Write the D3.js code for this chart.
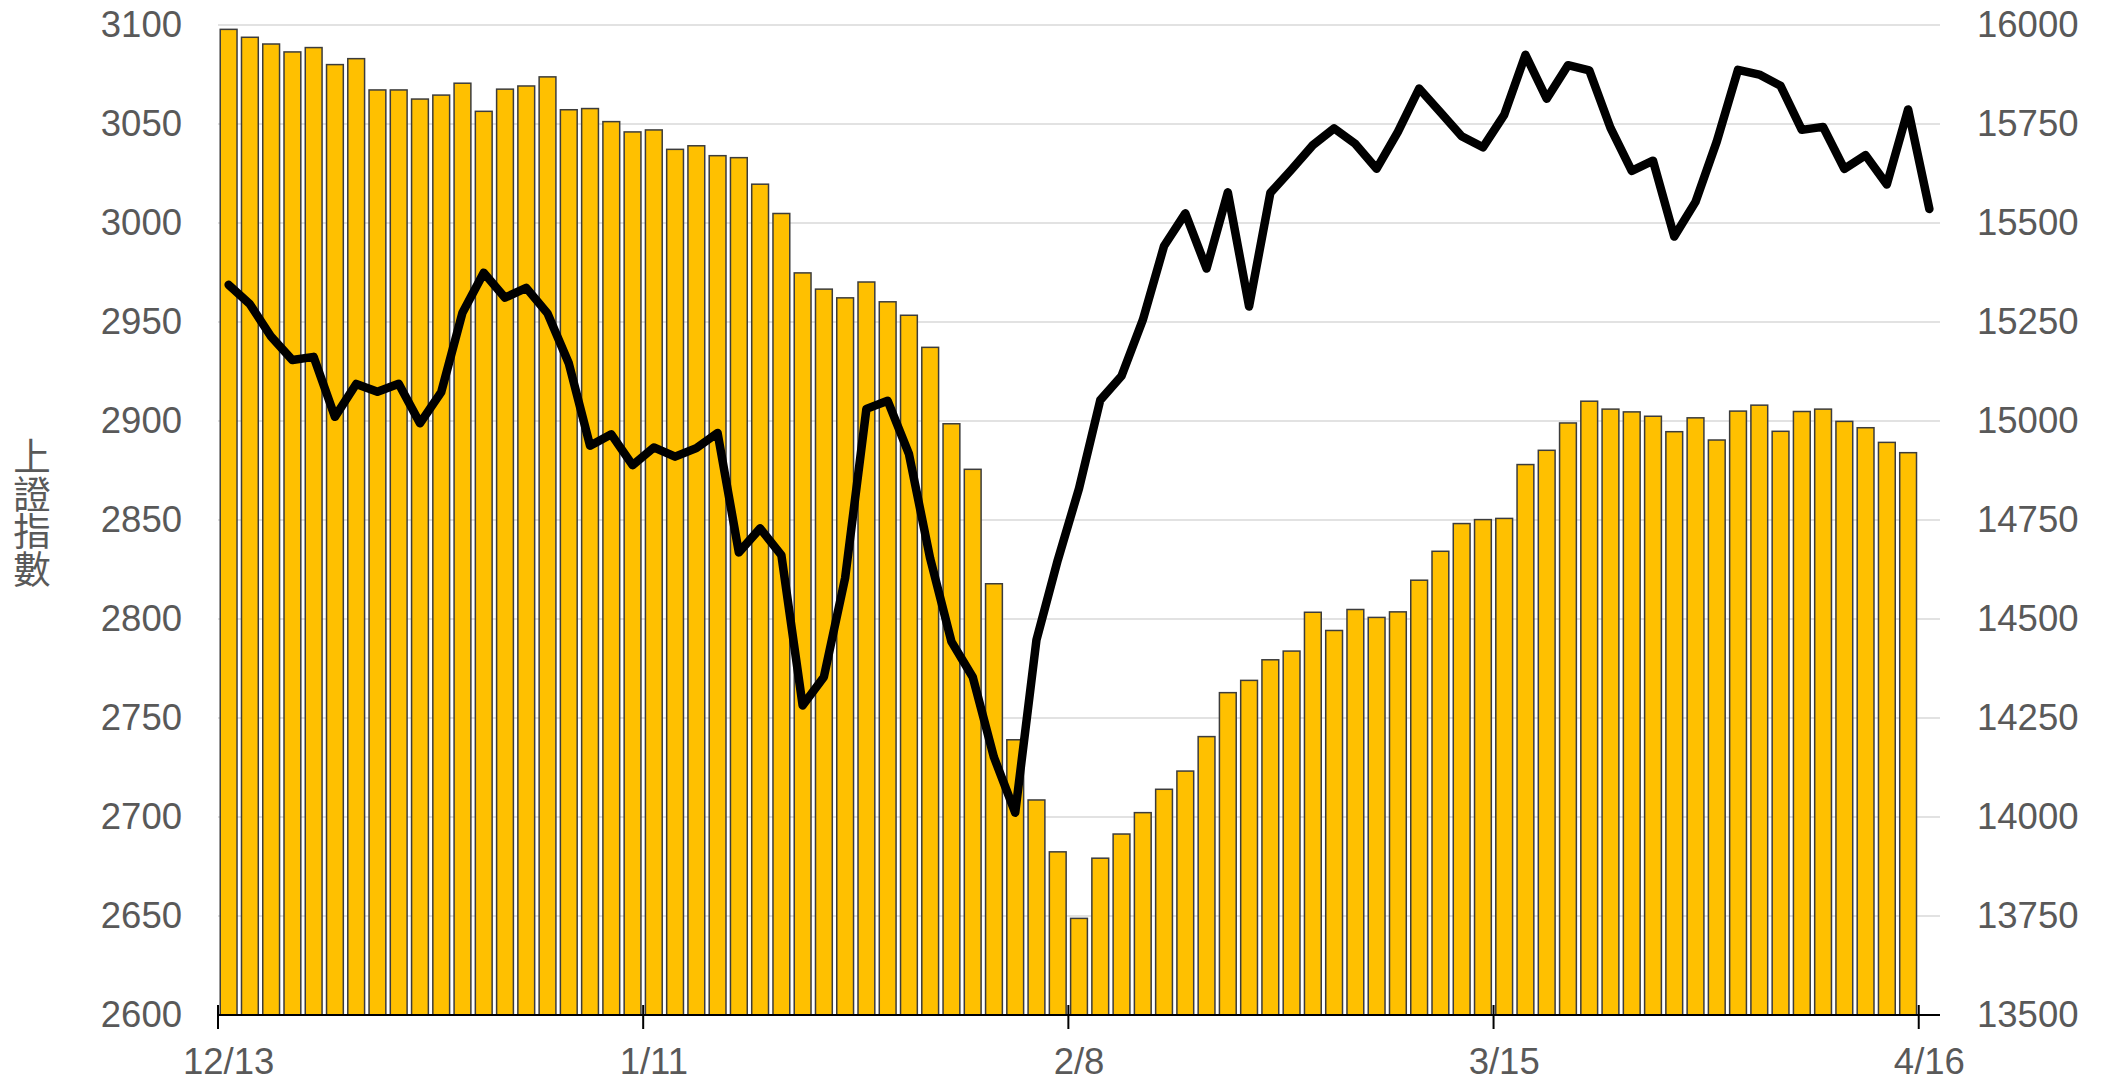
<!DOCTYPE html>
<html>
<head>
<meta charset="utf-8">
<script src="https://cdn.jsdelivr.net/npm/d3@7"></script>
<style>
  body { margin: 0; background: #fff; }
  svg text { font-family: "Liberation Sans", Arial, sans-serif; }
</style>
</head>
<body>
<svg id="chart" width="2107" height="1082"></svg>
<script>
// trading days, 12/13 -> 4/16
const dates = [
  "12/13","12/14","12/15","12/18","12/19","12/20","12/21","12/22","12/25","12/26","12/27","12/28","12/29",
  "1/2","1/3","1/4","1/5","1/8","1/9","1/10","1/11","1/12","1/15","1/16","1/17","1/18","1/19","1/22","1/23",
  "1/24","1/25","1/26","1/29","1/30","1/31",
  "2/1","2/2","2/5","2/6","2/7","2/8","2/19","2/20","2/21","2/22","2/23","2/26","2/27","2/28","2/29",
  "3/1","3/4","3/5","3/6","3/7","3/8","3/11","3/12","3/13","3/14","3/15","3/18","3/19","3/20","3/21","3/22",
  "3/25","3/26","3/27","3/28","3/29",
  "4/1","4/2","4/3","4/8","4/9","4/10","4/11","4/12","4/15","4/16"
];

// 上證指數 close (left axis)
const shIndex = [
  2968.76, 2958.99, 2942.56, 2930.80, 2932.39, 2902.11, 2918.71, 2914.78, 2918.81, 2898.85, 2914.61, 2954.70, 2974.93,
  2962.28, 2967.25, 2954.35, 2929.18, 2887.54, 2893.25, 2877.70, 2886.65, 2881.98, 2886.29, 2893.99, 2833.62, 2845.78,
  2832.28, 2756.34, 2770.74, 2820.77, 2906.11, 2910.22, 2883.36, 2830.53, 2788.55,
  2770.74, 2730.15, 2702.19, 2789.49, 2829.70, 2865.90, 2910.54, 2922.73, 2950.96, 2988.36, 3004.88, 2977.02, 3015.48,
  2957.85, 3015.17,
  3027.02, 3039.31, 3047.79, 3039.93, 3027.40, 3046.02, 3067.93, 3055.94, 3043.83, 3038.23, 3054.64, 3084.93, 3062.76,
  3079.69, 3077.11, 3048.03, 3026.31, 3031.48, 2993.14, 3010.66, 3041.17,
  3077.38, 3074.96, 3069.30, 3047.05, 3048.54, 3027.34, 3034.25, 3019.47, 3057.38, 3007.07
];

// bar series (right axis), no bar on the last day
const barValues = [
  15989, 15969, 15952, 15932, 15943, 15900, 15915, 15836, 15836, 15813, 15823, 15853, 15782, 15838, 15846, 15869,
  15786, 15789, 15756, 15730, 15735, 15686, 15695, 15670, 15665, 15598, 15524, 15374, 15333, 15311, 15351, 15301,
  15267, 15186, 14993, 14878, 14589, 14195, 14043, 13912, 13744, 13896, 13957, 14011, 14070, 14116, 14203, 14314,
  14345, 14397, 14419, 14517, 14471, 14524, 14504, 14518, 14598, 14671, 14741, 14751, 14754, 14890, 14926, 14995,
  15050, 15030, 15023, 15012, 14973, 15008, 14952, 15025, 15040, 14974, 15024, 15030, 14999, 14983, 14946, 14920
];

const leftTicks = [2600, 2650, 2700, 2750, 2800, 2850, 2900, 2950, 3000, 3050, 3100];
const rightTicks = [13500, 13750, 14000, 14250, 14500, 14750, 15000, 15250, 15500, 15750, 16000];
const xTickLabels = ["12/13", "1/11", "2/8", "3/15", "4/16"];
const yTitle = "上證指數";

var svg = d3.select("#chart");
var plotLeft = 218, plotRight = 1940, plotTop = 25, plotBottom = 1015;

var x = d3.scaleBand().domain(dates).range([plotLeft, plotRight]).padding(0);
var bw = x.bandwidth();
var yL = d3.scaleLinear().domain([2600, 3100]).range([plotBottom, plotTop]);
var yR = d3.scaleLinear().domain([13500, 16000]).range([plotBottom, plotTop]);

// gridlines
svg.append("g")
  .selectAll("line")
  .data(leftTicks)
  .enter().append("line")
  .attr("x1", plotLeft).attr("x2", plotRight)
  .attr("y1", d => yL(d)).attr("y2", d => yL(d))
  .attr("stroke", "#d9d9d9")
  .attr("stroke-width", 1.5);

// bars
var barW = bw * 0.79;
svg.append("g")
  .selectAll("rect")
  .data(barValues)
  .enter().append("rect")
  .attr("x", (d, i) => x(dates[i]) + (bw - barW) / 2)
  .attr("y", d => yR(d))
  .attr("width", barW)
  .attr("height", d => yR(13500) - yR(d))
  .attr("fill", "#FFC000")
  .attr("stroke", "#3c3c3c")
  .attr("stroke-width", 1.5);

// line
var line = d3.line()
  .x((d, i) => x(dates[i]) + bw / 2)
  .y(d => yL(d));

svg.append("path")
  .datum(shIndex)
  .attr("d", line)
  .attr("fill", "none")
  .attr("stroke", "#000")
  .attr("stroke-width", 8.5)
  .attr("stroke-linejoin", "round")
  .attr("stroke-linecap", "round");

// left axis
var gL = svg.append("g")
  .attr("transform", "translate(" + plotLeft + ",0)")
  .call(d3.axisLeft(yL).tickValues(leftTicks).tickFormat(d3.format("d")).tickSize(0).tickPadding(36));
gL.select(".domain").remove();

// right axis
var gR = svg.append("g")
  .attr("transform", "translate(" + plotRight + ",0)")
  .call(d3.axisRight(yR).tickValues(rightTicks).tickFormat(d3.format("d")).tickSize(0).tickPadding(37));
gR.select(".domain").remove();

// x axis: labels centred on the day, ticks on the band edge
var gX = svg.append("g")
  .attr("transform", "translate(0," + plotBottom + ")")
  .call(d3.axisBottom(x).tickValues(xTickLabels).tickSize(0).tickPadding(33));
gX.select(".domain").remove();

svg.selectAll(".tick text")
  .attr("font-size", 36.5)
  .attr("fill", "#595959");

svg.append("line")
  .attr("x1", plotLeft).attr("x2", plotRight)
  .attr("y1", plotBottom).attr("y2", plotBottom)
  .attr("stroke", "#000")
  .attr("stroke-width", 2);

svg.append("g")
  .selectAll("line")
  .data(xTickLabels)
  .enter().append("line")
  .attr("x1", d => x(d)).attr("x2", d => x(d))
  .attr("y1", plotBottom - 10).attr("y2", plotBottom + 14)
  .attr("stroke", "#000")
  .attr("stroke-width", 2);

// y title, written top to bottom
svg.append("text")
  .attr("x", 32)
  .attr("y", 437)
  .attr("fill", "#595959")
  .style("font-family", "'Noto Sans CJK TC', 'Noto Sans CJK SC', sans-serif")
  .style("writing-mode", "vertical-rl")
  .style("text-orientation", "upright")
  .attr("font-size", 37.5)
  .text(yTitle);
</script>
</body>
</html>
